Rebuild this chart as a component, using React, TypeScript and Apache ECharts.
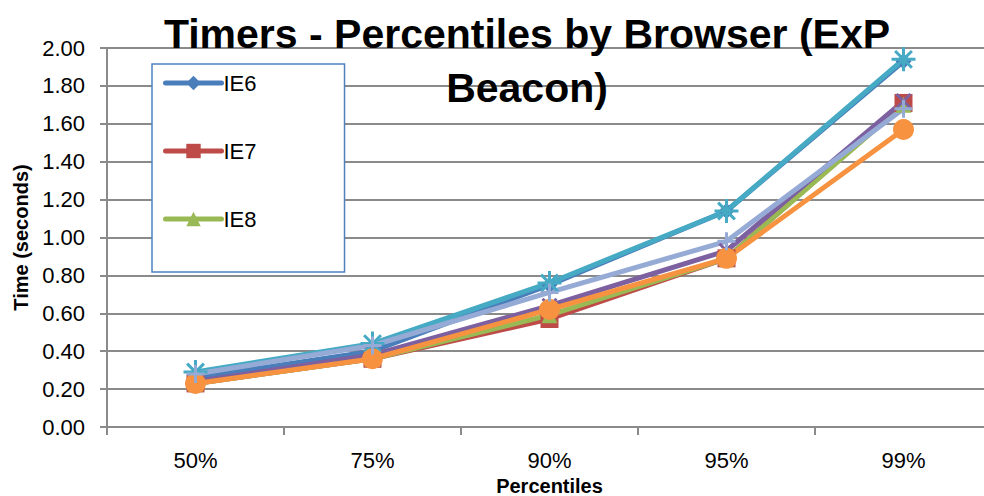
import React, { useEffect, useRef } from "react";
import * as echarts from "echarts";

const categories = ["50%", "75%", "90%", "95%", "99%"];
const ie6 = [0.26, 0.40, 0.75, 1.14, 1.93];
const ie7 = [0.23, 0.36, 0.57, 0.89, 1.71];
const ie8 = [0.23, 0.36, 0.59, 0.89, 1.70];
const series4 = [0.24, 0.38, 0.64, 0.93, 1.72];
const series5 = [0.29, 0.44, 0.76, 1.14, 1.94];
const series6 = [0.23, 0.36, 0.62, 0.89, 1.57];
const series7 = [0.28, 0.43, 0.71, 0.98, 1.68];

const FONT = "'Liberation Sans', Arial, sans-serif";
const GRID_GRAY = "#8a8a8a";

export default function App() {
  const ref = useRef<HTMLDivElement>(null);
  useEffect(() => {
    if (!ref.current) return;
    const chart = echarts.init(ref.current, null, { renderer: "svg" });
    const mk = (
      name: string,
      data: number[],
      color: string,
      symbol: string,
      size: number,
      stroked = false
    ) => ({
      name,
      type: "line",
      data,
      symbol,
      symbolSize: size,
      showSymbol: true,
      lineStyle: { color, width: 5 },
      itemStyle: stroked
        ? { color, borderColor: color, borderWidth: 3 }
        : { color, borderWidth: 0 },
      emphasis: { disabled: true },
    });
    chart.setOption({
      animation: false,
      title: {
        text: "Timers - Percentiles by Browser (ExP\nBeacon)",
        left: 522,
        top: 2,
        textAlign: "center",
        textStyle: {
          fontFamily: FONT,
          fontWeight: "bold",
          fontSize: 41,
          lineHeight: 54,
          color: "#000",
        },
      },
      legend: {
        data: ["IE6", "IE7", "IE8"],
        orient: "vertical",
        left: 152,
        top: 64,
        padding: [8, 88, 42, 11],
        itemWidth: 56,
        itemHeight: 18,
        itemGap: 46,
        backgroundColor: "#fff",
        borderColor: "#4F81BD",
        borderWidth: 1.5,
        lineStyle: { width: 5, cap: "round" },
        textStyle: { fontFamily: FONT, fontSize: 22, color: "#000", padding: [0, 0, 0, -3] },
      },
      grid: {
        left: 107,
        top: 48,
        width: 885,
        height: 379,
        containLabel: false,
        outerBoundsMode: "none",
      },
      xAxis: {
        type: "category",
        data: categories,
        boundaryGap: true,
        name: "Percentiles",
        nameLocation: "middle",
        nameGap: 33,
        nameTextStyle: { fontFamily: FONT, fontWeight: "bold", fontSize: 20, color: "#000" },
        axisLine: { lineStyle: { color: GRID_GRAY, width: 2 } },
        axisTick: { show: true, length: 8, lineStyle: { color: GRID_GRAY, width: 2 } },
        axisLabel: { fontFamily: FONT, fontSize: 22, color: "#000", margin: 22 },
      },
      yAxis: {
        type: "value",
        min: 0,
        max: 2,
        interval: 0.2,
        name: "Time (seconds)",
        nameLocation: "middle",
        nameGap: 75,
        nameTextStyle: { fontFamily: FONT, fontWeight: "bold", fontSize: 20, color: "#000" },
        axisLine: { show: true, lineStyle: { color: GRID_GRAY, width: 2 } },
        axisTick: { show: true, length: 7, lineStyle: { color: GRID_GRAY, width: 2 } },
        axisLabel: {
          fontFamily: FONT,
          fontSize: 22,
          color: "#000",
          margin: 22,
          formatter: (v: number) => v.toFixed(2),
        },
        splitLine: { lineStyle: { color: GRID_GRAY, width: 2 } },
      },
      series: [
        mk("IE6", ie6, "#4A7EBB", "diamond", 16),
        mk("IE7", ie7, "#BE4B48", "rect", 18),
        mk("IE8", ie8, "#98B954", "triangle", 16),
        mk("Series 4", series4, "#7D60A0", "path://M0,0L10,10M10,0L0,10", 14, true),
        mk(
          "Series 5",
          series5,
          "#46AAC5",
          "path://M5,0L5,10M0,5L10,5M1.5,1.5L8.5,8.5M8.5,1.5L1.5,8.5",
          24,
          true
        ),
        mk("Series 6", series6, "#F69240", "circle", 21),
        mk("Series 7", series7, "#95ABD5", "path://M5,0L5,10M0,5L10,5", 18, true),
      ],
    });
    return () => chart.dispose();
  }, []);
  return (
    <div
      ref={ref}
      style={{ position: "fixed", left: 0, top: 0, width: 984, height: 496, background: "#fff" }}
    />
  );
}
